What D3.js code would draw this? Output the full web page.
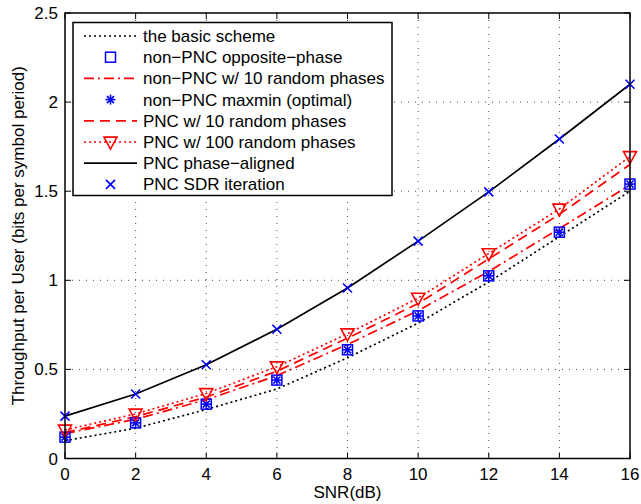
<!DOCTYPE html>
<html>
<head>
<meta charset="utf-8">
<script src="https://cdn.jsdelivr.net/npm/d3@7"></script>
<style>
  body { margin: 0; background: #fff; }
  text { font-family: "Liberation Sans", Arial, sans-serif; }
</style>
</head>
<body>
<script>
// data
var snr = [0, 2, 4, 6, 8, 10, 12, 14, 16];
var basicScheme   = [0.10, 0.17, 0.275, 0.39, 0.565, 0.76, 0.99, 1.245, 1.50];
var nonPncOpp     = [0.12, 0.20, 0.305, 0.44, 0.61, 0.80, 1.025, 1.27, 1.54];
var nonPncRand10  = [0.14, 0.22, 0.33, 0.465, 0.64, 0.83, 1.05, 1.29, 1.535];
var nonPncMaxmin  = [0.12, 0.20, 0.305, 0.44, 0.61, 0.80, 1.025, 1.27, 1.54];
var pncRand10     = [0.145, 0.235, 0.345, 0.49, 0.675, 0.87, 1.12, 1.37, 1.65];
var pncRand100    = [0.16, 0.25, 0.365, 0.515, 0.70, 0.90, 1.15, 1.40, 1.695];
var pncAligned    = [0.238, 0.362, 0.526, 0.725, 0.957, 1.22, 1.496, 1.793, 2.10];
var pncSdr        = [0.238, 0.362, 0.526, 0.725, 0.957, 1.22, 1.496, 1.793, 2.10];
var xTicks = [0, 2, 4, 6, 8, 10, 12, 14, 16];
var yTicks = [0, 0.5, 1, 1.5, 2, 2.5];
var legendLabels = [
  "the basic scheme",
  "non\u2212PNC opposite\u2212phase",
  "non\u2212PNC w/ 10 random phases",
  "non\u2212PNC maxmin (optimal)",
  "PNC w/ 10 random phases",
  "PNC w/ 100 random phases",
  "PNC phase\u2212aligned",
  "PNC SDR iteration"
];

var W = 641, H = 504;
var pL = 65, pR = 630, pT = 13, pB = 458.5;

var svg = d3.select("body").append("svg")
  .attr("width", W).attr("height", H);
svg.append("rect").attr("width", W).attr("height", H).attr("fill", "#fff");

var x = d3.scaleLinear().domain([0, 16]).range([pL, pR]);
var y = d3.scaleLinear().domain([0, 2.5]).range([pB, pT]);

// grid
var grid = svg.append("g")
  .attr("stroke", "#000").attr("stroke-width", 1)
  .attr("stroke-dasharray", "1,6").attr("opacity", 0.7);
grid.selectAll(".gx").data(xTicks.slice(1, -1)).enter().append("line")
  .attr("x1", d => x(d)).attr("x2", d => x(d))
  .attr("y1", pT).attr("y2", pB);
grid.selectAll(".gy").data(yTicks.slice(1, -1)).enter().append("line")
  .attr("x1", pL).attr("x2", pR)
  .attr("y1", d => y(d)).attr("y2", d => y(d));

// series
var series = [
  { v: basicScheme,  color: "#000", dash: "2,3",       marker: null },
  { v: nonPncOpp,    color: "#00f", dash: null,        marker: "square", noLine: true },
  { v: nonPncRand10, color: "#f00", dash: "10,4,2,4",  marker: null },
  { v: nonPncMaxmin, color: "#00f", dash: null,        marker: "star", noLine: true },
  { v: pncRand10,    color: "#f00", dash: "10,6",      marker: null },
  { v: pncRand100,   color: "#f00", dash: "2,3",       marker: "tri" },
  { v: pncAligned,   color: "#000", dash: null,        marker: null },
  { v: pncSdr,       color: "#00f", dash: null,        marker: "x", noLine: true }
];

var line = d3.line().x((d, i) => x(snr[i])).y(d => y(d));

function drawMarker(g, type, cx, cy, color) {
  if (type === "square") {
    g.append("rect").attr("x", cx - 5).attr("y", cy - 5)
      .attr("width", 10).attr("height", 10)
      .attr("fill", "none").attr("stroke", color).attr("stroke-width", 1.5);
  } else if (type === "star") {
    [0, 45, 90, 135].forEach(function(a) {
      var r = 5, rad = a * Math.PI / 180;
      g.append("line")
        .attr("x1", cx - r * Math.cos(rad)).attr("y1", cy - r * Math.sin(rad))
        .attr("x2", cx + r * Math.cos(rad)).attr("y2", cy + r * Math.sin(rad))
        .attr("stroke", color).attr("stroke-width", 1.6);
    });
  } else if (type === "tri") {
    var s = 6.5;
    g.append("path")
      .attr("d", "M" + (cx - s) + "," + (cy - s * 0.75) + "L" + (cx + s) + "," + (cy - s * 0.75) +
                 "L" + cx + "," + (cy + s * 1.1) + "Z")
      .attr("fill", "none").attr("stroke", color).attr("stroke-width", 1.6);
  } else if (type === "x") {
    var r = 4.5;
    g.append("path")
      .attr("d", "M" + (cx - r) + "," + (cy - r) + "L" + (cx + r) + "," + (cy + r) +
                 "M" + (cx - r) + "," + (cy + r) + "L" + (cx + r) + "," + (cy - r))
      .attr("stroke", color).attr("stroke-width", 1.6);
  }
}

var plot = svg.append("g");
series.forEach(function(s) {
  if (!s.noLine) {
    plot.append("path").datum(s.v).attr("d", line)
      .attr("fill", "none").attr("stroke", s.color).attr("stroke-width", 1.7)
      .attr("stroke-dasharray", s.dash);
  }
});
series.forEach(function(s) {
  if (s.marker) {
    s.v.forEach(function(d, i) { drawMarker(plot, s.marker, x(snr[i]), y(d), s.color); });
  }
});

// axes box
svg.append("rect").attr("x", pL).attr("y", pT)
  .attr("width", pR - pL).attr("height", pB - pT)
  .attr("fill", "none").attr("stroke", "#000").attr("stroke-width", 1.5);

var ticks = svg.append("g").attr("stroke", "#000").attr("stroke-width", 1);
xTicks.forEach(function(t) {
  ticks.append("line").attr("x1", x(t)).attr("x2", x(t)).attr("y1", pB).attr("y2", pB - 6);
  ticks.append("line").attr("x1", x(t)).attr("x2", x(t)).attr("y1", pT).attr("y2", pT + 6);
});
yTicks.forEach(function(t) {
  ticks.append("line").attr("x1", pL).attr("x2", pL + 6).attr("y1", y(t)).attr("y2", y(t));
  ticks.append("line").attr("x1", pR).attr("x2", pR - 6).attr("y1", y(t)).attr("y2", y(t));
});

svg.selectAll(".xl").data(xTicks).enter().append("text")
  .attr("x", d => x(d)).attr("y", 480)
  .attr("text-anchor", "middle").attr("font-size", 17).text(d => d);
svg.selectAll(".yl").data(yTicks).enter().append("text")
  .attr("x", pL - 7).attr("y", d => y(d) + 6)
  .attr("text-anchor", "end").attr("font-size", 17).text(d => d);

svg.append("text").attr("x", (pL + pR) / 2).attr("y", 498)
  .attr("text-anchor", "middle").attr("font-size", 17).text("SNR(dB)");
svg.append("text")
  .attr("transform", "translate(24," + ((pT + pB) / 2) + ") rotate(-90)")
  .attr("text-anchor", "middle").attr("font-size", 17)
  .text("Throughput per User (bits per symbol period)");

// legend
var lg = svg.append("g");
lg.append("rect").attr("x", 73).attr("y", 22.5).attr("width", 319).attr("height", 173)
  .attr("fill", "#fff").attr("stroke", "#000").attr("stroke-width", 1.5);
series.forEach(function(s, i) {
  var ly = 36 + i * 21.2;
  if (!s.noLine) {
    lg.append("line").attr("x1", 84).attr("x2", 137).attr("y1", ly).attr("y2", ly)
      .attr("stroke", s.color).attr("stroke-width", 1.7).attr("stroke-dasharray", s.dash);
  }
  if (s.marker) drawMarker(lg, s.marker, 110.5, ly, s.color);
  lg.append("text").attr("x", 143).attr("y", ly + 6).attr("font-size", 17).text(legendLabels[i]);
});
</script>
</body>
</html>
